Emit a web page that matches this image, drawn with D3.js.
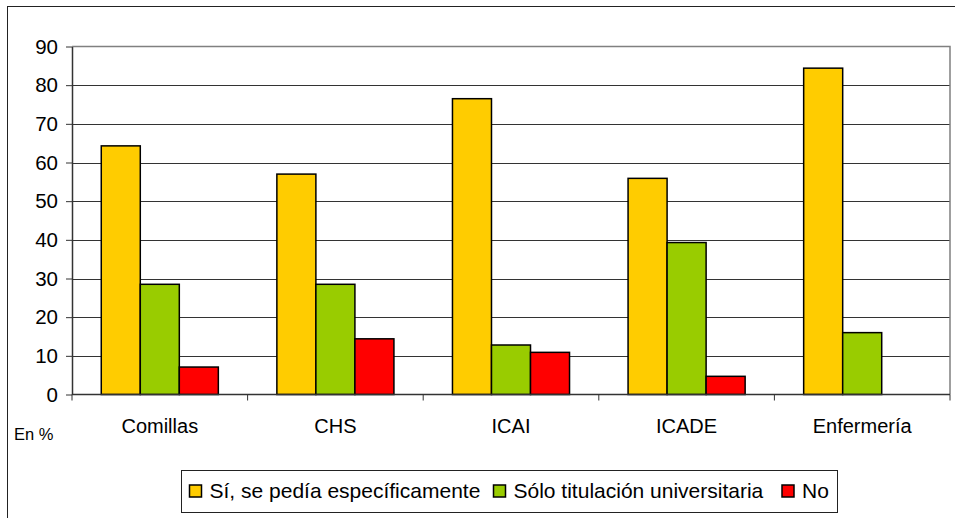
<!DOCTYPE html>
<html>
<head>
<meta charset="utf-8">
<script src="https://cdn.jsdelivr.net/npm/d3@7"></script>
<style>
  body { margin: 0; background: #fff; }
  svg { display: block; font-family: "Liberation Sans", Arial, sans-serif; }
</style>
</head>
<body>
<svg id="chart" width="955" height="518"></svg>
<script>
// values (percent)
const categories = ["Comillas", "CHS", "ICAI", "ICADE", "Enfermería"];
const seriesNames = ["Sí, se pedía específicamente", "Sólo titulación universitaria", "No"];
const siValues = [64.3, 57.0, 76.5, 55.9, 84.4];
const soloValues = [28.5, 28.5, 12.8, 39.3, 16.0];
const noValues = [7.1, 14.4, 10.9, 4.7, 0];
const yTicks = [0, 10, 20, 30, 40, 50, 60, 70, 80, 90];
const colors = ["#FFCC00", "#99CC00", "#FF0000"];

const allValues = [siValues, soloValues, noValues];

const svg = d3.select("#chart");

// outer chart frame (runs off the right and bottom edge)
svg.append("rect")
  .attr("x", 7.5).attr("y", 6.5)
  .attr("width", 960).attr("height", 530)
  .attr("fill", "#fff").attr("stroke", "#222").attr("stroke-width", 1);

const plot = {left: 72, right: 950, top: 46.5, bottom: 394.5};

const x0 = d3.scaleBand().domain(categories).range([plot.left, plot.right]).padding(0);
const x1 = d3.scaleBand().domain(d3.range(seriesNames.length))
  .range([0, x0.bandwidth()]).paddingInner(0).paddingOuter(0.75);
const y = d3.scaleLinear().domain([0, 90]).range([plot.bottom, plot.top]);

// gridlines
svg.append("g")
  .selectAll("line")
  .data(yTicks.filter(t => t > 0 && t < 90))
  .join("line")
  .attr("x1", plot.left).attr("x2", plot.right)
  .attr("y1", d => Math.round(y(d)) + 0.5).attr("y2", d => Math.round(y(d)) + 0.5)
  .attr("stroke", "#333").attr("stroke-width", 1);

// plot area border top + right (grey)
svg.append("path")
  .attr("d", `M${plot.left},${plot.top}H${plot.right}V${plot.bottom}`)
  .attr("fill", "none").attr("stroke", "#808080").attr("stroke-width", 1.5);

// bars
const groups = svg.append("g")
  .selectAll("g")
  .data(categories)
  .join("g")
  .attr("transform", d => `translate(${x0(d)},0)`);

groups.selectAll("rect")
  .data((d, i) => allValues.map((vals, s) => ({s: s, value: vals[i]})).filter(b => b.value > 0))
  .join("rect")
  .attr("x", b => x1(b.s))
  .attr("width", x1.bandwidth())
  .attr("y", b => y(b.value))
  .attr("height", b => y(0) - y(b.value))
  .attr("fill", b => colors[b.s])
  .attr("stroke", "#000").attr("stroke-width", 1.5);

// y axis
const yAxis = svg.append("g")
  .attr("transform", `translate(${plot.left},0)`)
  .call(d3.axisLeft(y).tickValues(yTicks).tickSize(6).tickPadding(8).tickSizeOuter(0));
yAxis.select(".domain").attr("stroke", "#333").attr("stroke-width", 1.5);
yAxis.selectAll(".tick line").attr("stroke", "#333");
yAxis.selectAll("text")
  .attr("font-size", 20.5).attr("fill", "#000")
  .attr("font-family", "'Liberation Sans', Arial, sans-serif");

// x axis with ticks at category boundaries
const xAxisG = svg.append("g").attr("transform", `translate(0,${plot.bottom})`);
xAxisG.append("line")
  .attr("x1", plot.left).attr("x2", plot.right)
  .attr("stroke", "#333").attr("stroke-width", 1.5);
xAxisG.selectAll("line.tk")
  .data(categories.concat(["end"]))
  .join("line").attr("class", "tk")
  .attr("x1", (d, i) => i < categories.length ? x0(d) : plot.right)
  .attr("x2", (d, i) => i < categories.length ? x0(d) : plot.right)
  .attr("y1", 0).attr("y2", 6)
  .attr("stroke", "#333").attr("stroke-width", 1);
xAxisG.selectAll("text")
  .data(categories)
  .join("text")
  .attr("x", d => x0(d) + x0.bandwidth() / 2)
  .attr("y", 38.5)
  .attr("text-anchor", "middle")
  .attr("font-size", 20)
  .text(d => d);

svg.append("text")
  .attr("x", 14).attr("y", 440)
  .attr("font-size", 16.5)
  .text("En %");

// legend
const legend = svg.append("g");
legend.append("rect")
  .attr("x", 181.5).attr("y", 470.5)
  .attr("width", 656).attr("height", 42)
  .attr("fill", "#fff").attr("stroke", "#222").attr("stroke-width", 1);

const legendX = [189.5, 493.5, 782];
const items = legend.selectAll("g")
  .data(seriesNames)
  .join("g")
  .attr("transform", (d, i) => `translate(${legendX[i]},485)`);
items.append("rect")
  .attr("width", 12).attr("height", 12)
  .attr("fill", (d, i) => colors[i])
  .attr("stroke", "#000").attr("stroke-width", 1.5);
items.append("text")
  .attr("x", 20).attr("y", 12.5)
  .attr("font-size", 21)
  .text(d => d);
</script>
</body>
</html>
